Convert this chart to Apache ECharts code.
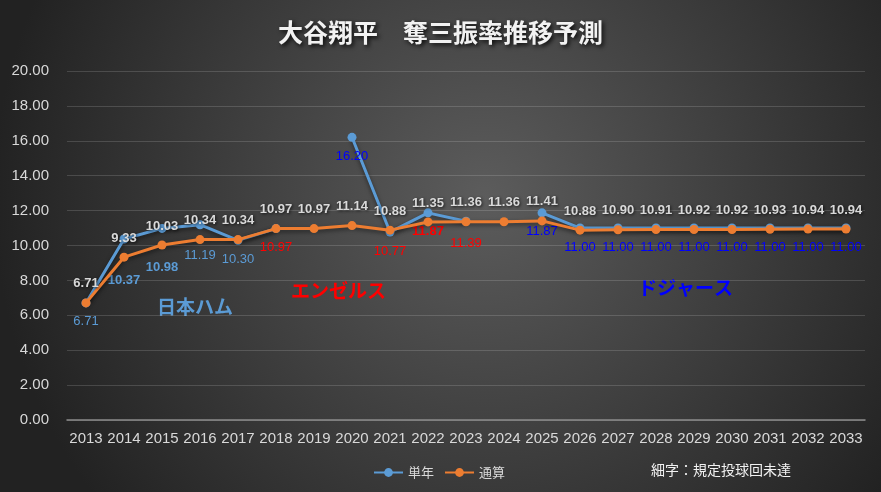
<!DOCTYPE html>
<html>
<head>
<meta charset="utf-8">
<script src="https://cdn.jsdelivr.net/npm/echarts@6/dist/echarts.min.js"></script>
<style>
html,body{margin:0;padding:0;background:#333;}
#c{width:881px;height:492px;}
</style>
</head>
<body>
<div id="c"></div>
<script>
// ---- data ----
const years = ['2013','2014','2015','2016','2017','2018','2019','2020','2021','2022','2023','2024','2025','2026','2027','2028','2029','2030','2031','2032','2033'];
const singleYear = [6.71, 10.37, 10.98, 11.19, 10.30, 10.97, null, 16.20, 10.77, 11.87, 11.39, null, 11.87, 11.00, 11.00, 11.00, 11.00, 11.00, 11.00, 11.00, 11.00];
const cumulative = [6.71, 9.33, 10.03, 10.34, 10.34, 10.97, 10.97, 11.14, 10.88, 11.35, 11.36, 11.36, 11.41, 10.88, 10.90, 10.91, 10.92, 10.92, 10.93, 10.94, 10.94];
const yTicks = [0, 2, 4, 6, 8, 10, 12, 14, 16, 18, 20];
const seriesNames = ['単年', '通算'];
const teams = ['日本ハム', 'エンゼルス', 'ドジャース'];
const titleText = '大谷翔平　奪三振率推移予測';
const noteText = '細字：規定投球回未達';

// ---- styling (not data) ----
const FH = '#5b9bd5', LAA = '#ff0000', LAD = '#0000ff';
const singleLabelStyle = {
  '2013': {c: FH}, '2014': {c: FH, b: true, dy: 22}, '2015': {c: FH, b: true, dy: 20},
  '2016': {c: FH, dy: 12}, '2017': {c: FH}, '2018': {c: LAA}, '2020': {c: LAD},
  '2021': {c: LAA}, '2022': {c: LAA, b: true}, '2023': {c: LAA, dy: 3}
};
const FONT = '"Liberation Sans", "Noto Sans CJK JP", sans-serif';
const CJK = '"Noto Sans CJK JP", sans-serif';

const singleData = singleYear.map((v, i) => {
  const s = singleLabelStyle[years[i]] || {c: LAD};
  return {
    value: v,
    label: {
      color: s.c,
      fontWeight: s.b ? 'bold' : 'normal',
      offset: [0, s.dy || 0]
    }
  };
});

const chart = echarts.init(document.getElementById('c'));
chart.setOption({
  animation: false,
  backgroundColor: {
    type: 'radial', x: 0.55, y: 0.4, r: 1.0,
    colorStops: [{offset: 0, color: '#5c5c5c'}, {offset: 1, color: '#222222'}]
  },
  title: {
    text: titleText, left: 'center', top: 15,
    textStyle: {
      fontFamily: CJK, fontSize: 25, fontWeight: 'bold', color: '#f2f2f2',
      textShadowColor: 'rgba(0,0,0,0.85)', textShadowBlur: 4, textShadowOffsetX: 2, textShadowOffsetY: 2
    }
  },
  grid: {left: 67, right: 16, top: 71, bottom: 72, containLabel: false},
  legend: {
    data: seriesNames, left: 368, top: 461, itemWidth: 29, itemHeight: 11, itemGap: 10,
    textStyle: {fontFamily: CJK, fontSize: 13, color: '#d9d9d9'}
  },
  xAxis: {
    type: 'category', data: years, boundaryGap: true,
    axisLine: {lineStyle: {color: '#8c8c8c', width: 1.5}},
    axisTick: {show: false},
    axisLabel: {interval: 0, color: '#d9d9d9', fontFamily: FONT, fontSize: 15, margin: 11}
  },
  yAxis: {
    type: 'value', min: yTicks[0], max: yTicks[yTicks.length - 1], interval: yTicks[1] - yTicks[0],
    axisLine: {show: false}, axisTick: {show: false},
    splitLine: {lineStyle: {color: 'rgba(255,255,255,0.15)', width: 1}},
    axisLabel: {color: '#d9d9d9', fontFamily: FONT, fontSize: 15, margin: 18, formatter: v => v.toFixed(2)}
  },
  series: [
    {
      name: seriesNames[0], type: 'line', data: singleData, connectNulls: false,
      symbol: 'circle', symbolSize: 9,
      itemStyle: {color: '#5b9bd5'},
      lineStyle: {width: 3, color: '#5b9bd5', shadowColor: 'rgba(0,0,0,0.5)', shadowBlur: 4, shadowOffsetY: 2},
      label: {
        show: true, position: 'bottom', distance: 8, fontFamily: FONT, fontSize: 13,
        formatter: p => p.value == null ? '' : Number(p.value).toFixed(2)
      },
      z: 2
    },
    {
      name: seriesNames[1], type: 'line', data: cumulative,
      symbol: 'circle', symbolSize: 9,
      itemStyle: {color: '#ed7d31'},
      lineStyle: {width: 3, color: '#ed7d31', shadowColor: 'rgba(0,0,0,0.5)', shadowBlur: 4, shadowOffsetY: 2},
      label: {
        show: true, position: 'top', distance: 8, fontFamily: FONT, fontSize: 13, fontWeight: 'bold',
        color: '#d9d9d9', textShadowColor: 'rgba(0,0,0,0.7)', textShadowBlur: 3, textShadowOffsetX: 1, textShadowOffsetY: 1,
        formatter: p => Number(p.value).toFixed(2)
      },
      z: 3
    }
  ],
  graphic: [
    {type: 'text', left: 195 - 38, top: 297, style: {text: teams[0], fill: FH, font: 'bold 19px ' + CJK}},
    {type: 'text', left: 338 - 47, top: 281, style: {text: teams[1], fill: LAA, font: 'bold 19px ' + CJK}},
    {type: 'text', left: 685 - 47, top: 278, style: {text: teams[2], fill: LAD, font: 'bold 19px ' + CJK}},
    {type: 'text', left: 651, top: 463, style: {text: noteText, fill: '#f2f2f2', font: '14px ' + CJK}}
  ]
});
</script>
</body>
</html>
